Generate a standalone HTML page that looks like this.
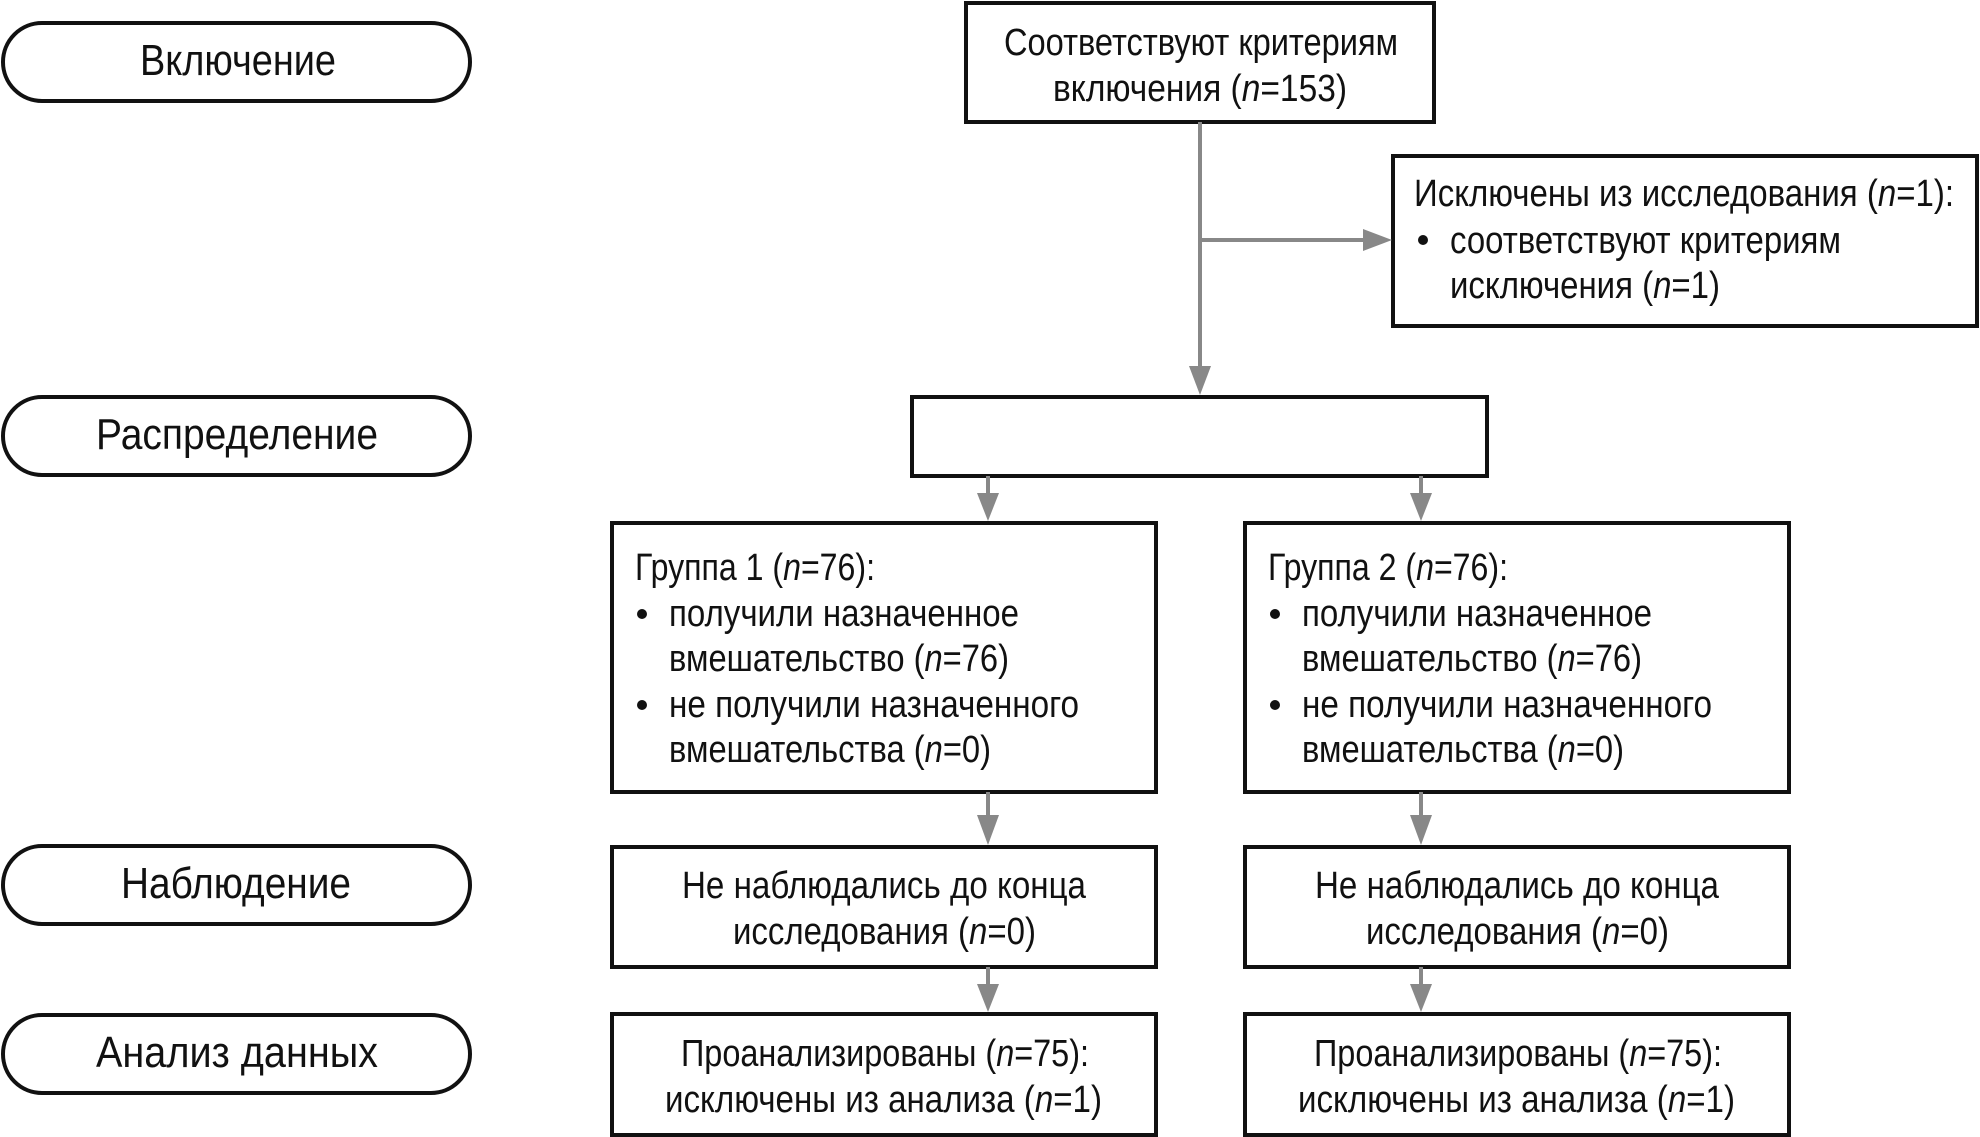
<!DOCTYPE html>
<html><head><meta charset="utf-8"><style>
html,body{margin:0;padding:0;background:#fff;}
svg{display:block;}
text{font-family:"Liberation Sans Narrow","Liberation Sans","DejaVu Sans",sans-serif;fill:#111;font-size:38px;}
.p{font-size:44px;}
</style></head><body>
<svg width="1980" height="1137" viewBox="0 0 1980 1137" xmlns="http://www.w3.org/2000/svg">
<defs>
<marker id="a" markerWidth="10" markerHeight="10" refX="9" refY="5" orient="auto" markerUnits="userSpaceOnUse" viewBox="0 0 10 10">
</marker>
</defs>
<g fill="none" stroke="#111" stroke-width="4">
<rect x="3" y="23" width="467" height="78" rx="39"/>
<rect x="3" y="397" width="467" height="78" rx="39"/>
<rect x="3" y="846" width="467" height="78" rx="39"/>
<rect x="3" y="1015" width="467" height="78" rx="39"/>
<rect x="966" y="3" width="468" height="119"/>
<rect x="1393" y="156" width="584" height="170"/>
<rect x="912" y="397" width="575" height="79"/>
<rect x="612" y="523" width="544" height="269"/>
<rect x="1245" y="523" width="544" height="269"/>
<rect x="612" y="847" width="544" height="120"/>
<rect x="1245" y="847" width="544" height="120"/>
<rect x="612" y="1014" width="544" height="121"/>
<rect x="1245" y="1014" width="544" height="121"/>
</g>
<g stroke="#888" stroke-width="4" fill="none">
<line x1="1200" y1="122" x2="1200" y2="370"/>
<line x1="1200" y1="240" x2="1366" y2="240"/>
<line x1="988" y1="476" x2="988" y2="496"/>
<line x1="1421" y1="476" x2="1421" y2="496"/>
<line x1="988" y1="792" x2="988" y2="818"/>
<line x1="1421" y1="792" x2="1421" y2="818"/>
<line x1="988" y1="967" x2="988" y2="987"/>
<line x1="1421" y1="967" x2="1421" y2="987"/>
</g>
<g fill="#888">
<polygon points="1189,366 1211,366 1200,395"/>
<polygon points="1363,229 1363,251 1392,240"/>
<polygon points="977,493 999,493 988,521"/>
<polygon points="1410,493 1432,493 1421,521"/>
<polygon points="977,815 999,815 988,845"/>
<polygon points="1410,815 1432,815 1421,845"/>
<polygon points="977,984 999,984 988,1012"/>
<polygon points="1410,984 1432,984 1421,1012"/>
</g>
<text class="p" x="140" y="75" textLength="196" lengthAdjust="spacingAndGlyphs">Включение</text>
<text class="p" x="96" y="449" textLength="282" lengthAdjust="spacingAndGlyphs">Распределение</text>
<text class="p" x="121" y="898" textLength="230" lengthAdjust="spacingAndGlyphs">Наблюдение</text>
<text class="p" x="96" y="1067" textLength="282" lengthAdjust="spacingAndGlyphs">Анализ данных</text>

<text x="1004" y="55" textLength="394" lengthAdjust="spacingAndGlyphs">Соответствуют критериям</text>
<text x="1053" y="101" textLength="294" lengthAdjust="spacingAndGlyphs">включения (<tspan font-style="italic">n</tspan>=153)</text>

<text x="1414" y="206" textLength="540" lengthAdjust="spacingAndGlyphs">Исключены из исследования (<tspan font-style="italic">n</tspan>=1):</text>
<circle cx="1423" cy="240" r="5" fill="#111"/>
<text x="1450" y="253" textLength="391" lengthAdjust="spacingAndGlyphs">соответствуют критериям</text>
<text x="1450" y="298" textLength="270" lengthAdjust="spacingAndGlyphs">исключения (<tspan font-style="italic">n</tspan>=1)</text>

<g id="g1">
<text x="635" y="580" textLength="240" lengthAdjust="spacingAndGlyphs">Группа 1 (<tspan font-style="italic">n</tspan>=76):</text>
<circle cx="642" cy="614" r="5" fill="#111"/>
<text x="669" y="626" textLength="350" lengthAdjust="spacingAndGlyphs">получили назначенное</text>
<text x="669" y="671" textLength="340" lengthAdjust="spacingAndGlyphs">вмешательство (<tspan font-style="italic">n</tspan>=76)</text>
<circle cx="642" cy="705" r="5" fill="#111"/>
<text x="669" y="717" textLength="410" lengthAdjust="spacingAndGlyphs">не получили назначенного</text>
<text x="669" y="762" textLength="322" lengthAdjust="spacingAndGlyphs">вмешательства (<tspan font-style="italic">n</tspan>=0)</text>
</g>
<text x="1268" y="580" textLength="240" lengthAdjust="spacingAndGlyphs">Группа 2 (<tspan font-style="italic">n</tspan>=76):</text>
<circle cx="1275" cy="614" r="5" fill="#111"/>
<text x="1302" y="626" textLength="350" lengthAdjust="spacingAndGlyphs">получили назначенное</text>
<text x="1302" y="671" textLength="340" lengthAdjust="spacingAndGlyphs">вмешательство (<tspan font-style="italic">n</tspan>=76)</text>
<circle cx="1275" cy="705" r="5" fill="#111"/>
<text x="1302" y="717" textLength="410" lengthAdjust="spacingAndGlyphs">не получили назначенного</text>
<text x="1302" y="762" textLength="322" lengthAdjust="spacingAndGlyphs">вмешательства (<tspan font-style="italic">n</tspan>=0)</text>

<text x="682" y="898" textLength="404" lengthAdjust="spacingAndGlyphs">Не наблюдались до конца</text>
<text x="733" y="944" textLength="303" lengthAdjust="spacingAndGlyphs">исследования (<tspan font-style="italic">n</tspan>=0)</text>
<text x="1315" y="898" textLength="404" lengthAdjust="spacingAndGlyphs">Не наблюдались до конца</text>
<text x="1366" y="944" textLength="303" lengthAdjust="spacingAndGlyphs">исследования (<tspan font-style="italic">n</tspan>=0)</text>

<text x="681" y="1066" textLength="408" lengthAdjust="spacingAndGlyphs">Проанализированы (<tspan font-style="italic">n</tspan>=75):</text>
<text x="665" y="1112" textLength="437" lengthAdjust="spacingAndGlyphs">исключены из анализа (<tspan font-style="italic">n</tspan>=1)</text>
<text x="1314" y="1066" textLength="408" lengthAdjust="spacingAndGlyphs">Проанализированы (<tspan font-style="italic">n</tspan>=75):</text>
<text x="1298" y="1112" textLength="437" lengthAdjust="spacingAndGlyphs">исключены из анализа (<tspan font-style="italic">n</tspan>=1)</text>
</svg>
</body></html>
